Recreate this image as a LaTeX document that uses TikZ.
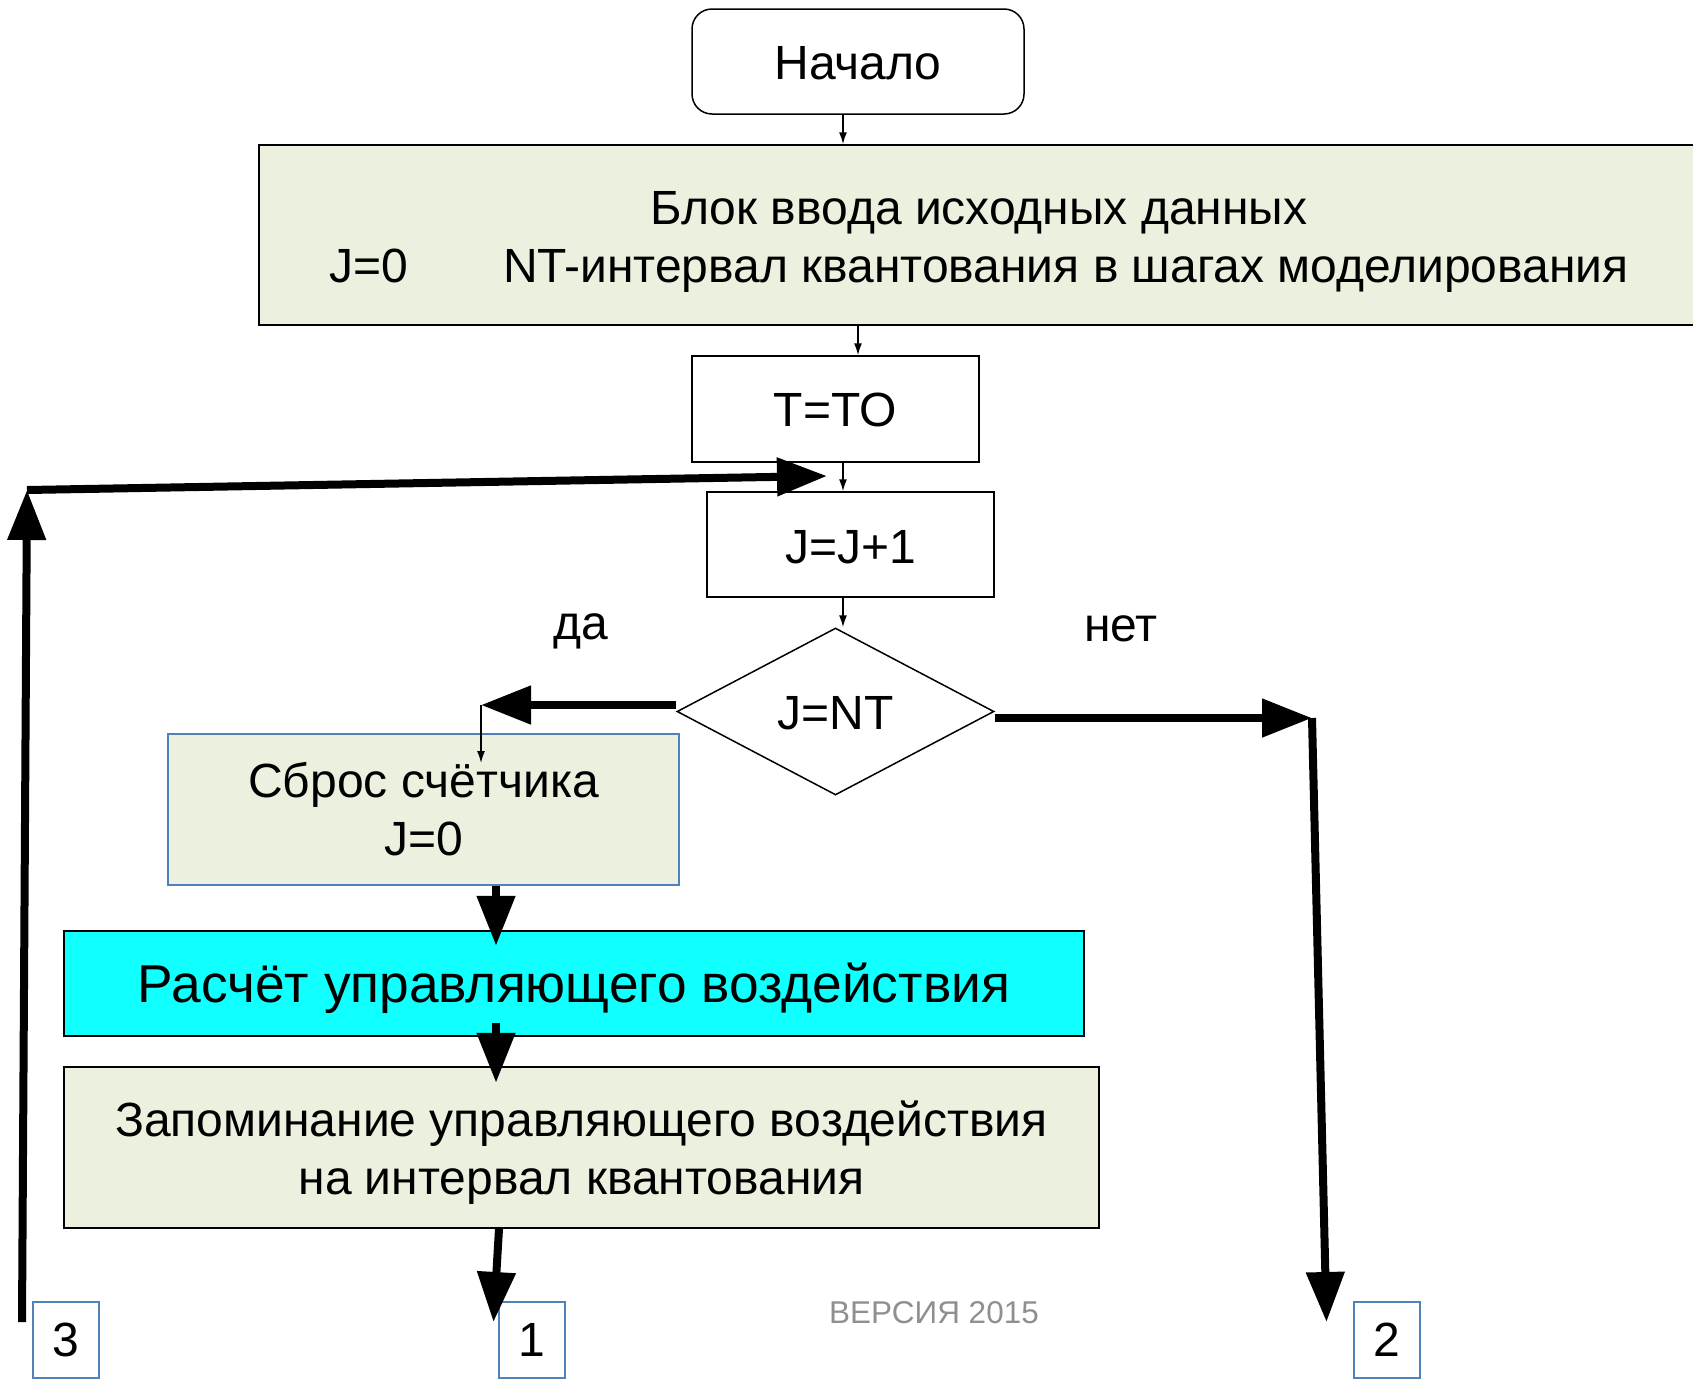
\documentclass[tikz,border=0pt]{standalone}
\usepackage{fontspec}
\setmainfont{Liberation Sans}
\usetikzlibrary{arrows.meta,shapes.geometric}

\definecolor{inputgreen}{HTML}{EBF1DE}
\definecolor{calccyan}{HTML}{10FFFF}
\definecolor{linkblue}{HTML}{4F81BD}
\definecolor{versiongray}{HTML}{8F8F8F}

% strut that pushes a first line down a little
\newcommand{\lowstrut}[1]{\rule{0pt}{#1}}

\tikzset{
  block/.style={draw, line width=1.5pt, inner sep=0pt, align=center,
    font=\fontsize{48}{58}\selectfont},
  greenblock/.style={block, fill=inputgreen},
  linkbox/.style={draw=linkblue, line width=2pt, minimum width=66pt,
    minimum height=76pt, inner sep=0pt, font=\fontsize{48}{58}\selectfont},
  thinarrow/.style={-{Latex[length=12pt,width=8pt]}, line width=1.5pt},
  bigarrow/.style={-{Triangle[length=50pt,width=37pt]}, line width=8pt},
}

\begin{document}
\begin{tikzpicture}[x=1pt,y=-1pt]
    \useasboundingbox (0,0) rectangle (1693,1379);
    \clip (0,0) rectangle (1693,1379);

    % blocks
    \node[block, rounded corners=20pt, minimum width=332pt, minimum height=105pt]
      (start) at (858,61.5) {\lowstrut{36pt}Начало};
    \node[greenblock, minimum width=1440pt, minimum height=180pt] (input) at (979,235)
      {\lowstrut{46pt}Блок ввода исходных данных\\J=0\hspace{95pt}NT-интервал квантования в шагах моделирования};
    \node[block, minimum width=287pt, minimum height=106pt] (tto) at (835.5,409) {\lowstrut{36pt}T=TO};
    \node[block, minimum width=287pt, minimum height=105pt] (inc) at (850.5,544.5) {\lowstrut{38pt}J=J+1};
    \node[block, diamond, minimum width=317pt, minimum height=167pt] (check) at (835.5,711.5) {\lowstrut{36pt}J=NT};
    \node[greenblock, draw=linkblue, minimum width=511pt, minimum height=151pt]
      (reset) at (423.5,809.5) {Сброс счётчика\\J=0};
    \node[block, fill=calccyan, minimum width=1020pt, minimum height=105pt,
      font=\fontsize{53.3}{60}\selectfont] (calc) at (574,983.5) {\lowstrut{50pt}Расчёт управляющего воздействия};
    \node[greenblock, minimum width=1035pt, minimum height=161pt] (store) at (581.5,1147.5)
      {\lowstrut{46pt}Запоминание управляющего воздействия\\на интервал квантования};

    % labels
    \node[font=\fontsize{48}{58}\selectfont] (yeslabel) at (581,631) {да};
    \node[font=\fontsize{48}{58}\selectfont] (nolabel) at (1121,629) {нет};
    \node[text=versiongray, font=\fontsize{31.5}{36}\selectfont] (version) at (934,1313) {ВЕРСИЯ 2015};

    % off-page links
    \node[linkbox] (link3) at (66,1340) {3};
    \node[linkbox] (link1) at (531.5,1340) {1};
    \node[linkbox] (link2) at (1386.5,1340) {2};

    % thin arrows
    \draw[thinarrow] ([xshift=-15pt]start.south) -- ([xshift=-15pt]start.south |- input.north);
    \draw[thinarrow] (start.south |- input.south) -- (start.south |- tto.north);
    \draw[thinarrow] ([xshift=7.5pt]tto.south) -- ([xshift=7.5pt]tto.south |- inc.north);
    \draw[thinarrow] ([xshift=-7.5pt]inc.south) -- ([xshift=-7.5pt]inc.south |- check.north);

    % branches
    \coordinate (yes) at (481,705);
    \coordinate (yesend) at (481,763);
    \coordinate (no) at (1312,718);
    \draw[bigarrow] ([yshift=6.5pt]check.west) -- (yes);
    \draw[thinarrow] (yes) -- (yesend);
    \draw[bigarrow] (check.east |- no) -- (no);
    \draw[bigarrow] (no) -- ([xshift=-26pt,yshift=-21pt]link2.north west);

    % main chain
    \draw[bigarrow] ([xshift=72.5pt]reset.south) -- ++(0,60);
    \draw[bigarrow] ([xshift=-78pt,yshift=14pt]calc.south) -- ++(0,60);
    \draw[bigarrow] ([xshift=-82.5pt]store.south) -- ([xshift=-4pt,yshift=-21pt]link1.north west);

    % loop back
    \coordinate (looptop) at (27,490);
    \coordinate (loopend) at (827,476);
    \draw[bigarrow] ([xshift=-10pt,yshift=-21pt]link3.north west) -- (looptop);
    \draw[bigarrow] (looptop) -- (loopend);
\end{tikzpicture}
\end{document}
